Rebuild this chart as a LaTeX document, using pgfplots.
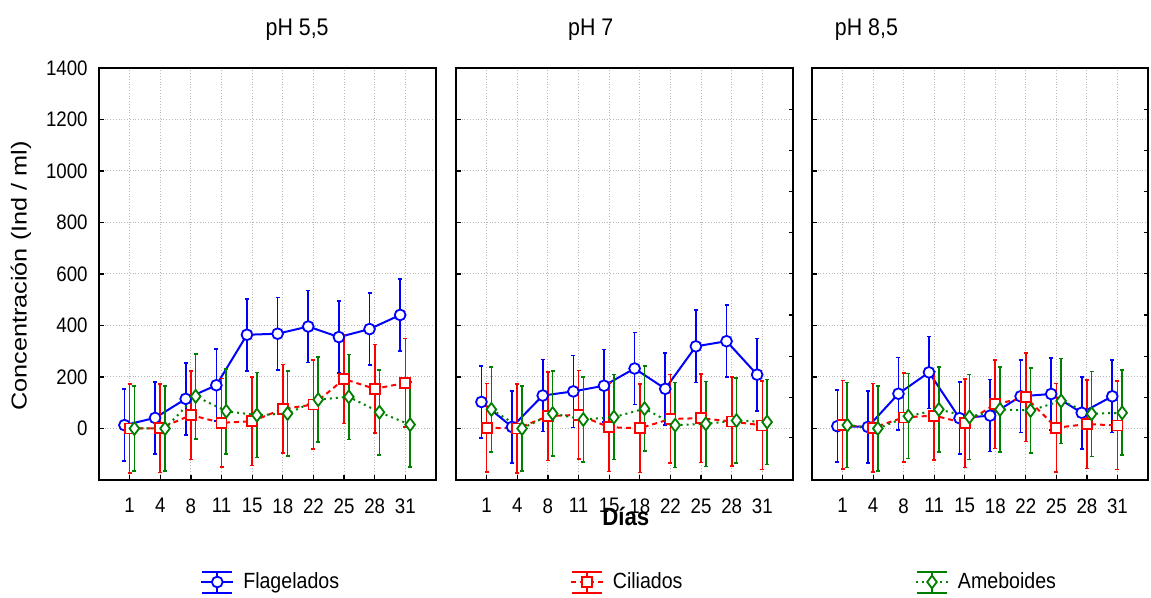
\documentclass[border=0pt]{standalone}
\usepackage{fontspec}
\setmainfont{Liberation Sans}[FakeStretch=0.89]
\newfontfamily\ylabfont{Liberation Sans}[FakeStretch=1.17]
\usepackage{pgfplots}
\usepackage{pgfplotstable}
\pgfplotsset{compat=1.18}

\definecolor{cblue}{RGB}{0,0,255}
\definecolor{cred}{RGB}{255,0,0}
\definecolor{cgreen}{RGB}{0,128,0}

% pH 5,5
\pgfplotstableread{
x f c a fe ce ae
0 13 0 0 140 172 165
1 41 1 0 140 172 165
2 115 52 125 140 172 165
3 168 22 67 140 172 165
4 364 28 52 140 172 165
5 368 76 58 140 172 165
6 396 93 112 140 172 165
7 355 192 123 140 172 165
8 386 154 63 140 172 165
9 441 177 15 140 172 165
}\phA
% pH 7
\pgfplotstableread{
x f c a fe ce ae
0 103 3 74 140 172 165
1 6 0 0 140 172 165
2 128 48 58 140 172 165
3 144 53 35 140 172 165
4 166 5 44 140 172 165
5 233 1 77 140 172 165
6 154 37 13 140 172 165
7 319 40 18 140 172 165
8 339 27 31 140 172 165
9 209 12 25 140 172 165
}\phB
% pH 8,5
\pgfplotstableread{
x f c a fe ce ae
0 9 14 13 140 172 165
1 6 3 0 140 172 165
2 135 43 48 140 172 165
3 218 50 74 140 172 165
4 40 21 45 140 172 165
5 50 94 74 140 172 165
6 125 121 70 140 172 165
7 134 3 107 140 172 165
8 61 17 57 140 172 165
9 125 12 61 140 172 165
}\phC

\pgfplotsset{
  legend image code/.code={
    \draw[#1,mark=none] (0pt,0pt) -- (16pt,0pt);
    \draw[#1,mark=none,solid,line width=1pt] (8pt,-5.25pt) -- (8pt,5.25pt) (0.5pt,-5.25pt) -- (15.5pt,-5.25pt) (0.5pt,5.25pt) -- (15.5pt,5.25pt);
    \draw[#1,only marks] plot coordinates {(8pt,0pt)};
  },
  panel/.style={
    anchor=south west, scale only axis, height=206pt,
    xmin=-1, xmax=10, ymin=-200, ymax=1400,
    xtick={0,...,9}, xticklabels={1,4,8,11,15,18,22,25,28,31},
    ytick={0,200,...,1400},
    xtick pos=bottom, ytick pos=left, tick align=inside,
    major tick length=2.5pt, tick style={black, line width=0.6pt},
    grid=major, grid style={densely dotted, black!28, line width=0.5pt},
    axis line style={line width=0.8pt},
    /pgf/number format/assume math mode=true,
    /pgf/number format/1000 sep={},
    ticklabel style={font=\fontsize{10.5}{12}\selectfont},
    xticklabel style={inner sep=0pt, anchor=north, yshift=-9pt},
    yticklabel style={inner sep=0pt, anchor=east, xshift=-5.5pt},
    legend style={draw=none, fill=none, inner sep=0pt, outer sep=0pt, anchor=west,
      font=\fontsize{11}{13}\selectfont, column sep=4.5pt, nodes={inner sep=0pt}},
  },
  fstyle/.style={cblue, line width=1pt, mark=*, mark size=2.7pt,
    mark options={solid, fill=white, draw=cblue, line width=0.9pt},
    error bars/.cd, y dir=both, y explicit,
    error bar style={line width=0.8pt, solid},
    error mark options={line width=0.8pt, mark size=1pt, solid, rotate=90},
    /pgfplots/.cd},
  cstyle/.style={cred, line width=1pt, dash pattern=on 2.5pt off 2pt, mark=square*, mark size=2.5pt,
    mark options={solid, fill=white, draw=cred, line width=0.9pt},
    error bars/.cd, y dir=both, y explicit,
    error bar style={line width=0.8pt, solid},
    error mark options={line width=0.8pt, mark size=1pt, solid, rotate=90},
    /pgfplots/.cd},
  astyle/.style={cgreen, line width=1pt, dotted, mark=diamond*, mark size=3.2pt,
    mark options={solid, fill=white, draw=cgreen, line width=0.9pt},
    error bars/.cd, y dir=both, y explicit,
    error bar style={line width=0.8pt, solid},
    error mark options={line width=0.8pt, mark size=1pt, solid, rotate=90},
    /pgfplots/.cd},
  rticks/.style={anchor=south west, scale only axis, height=206pt,
    xmin=-1, xmax=10, ymin=-200, ymax=1400, hide x axis, axis y line*=right,
    ytick={-36,121,281,441,601,761,920,1081,1240}, yticklabels={},
    tick align=inside, major tick length=2pt, tick style={black, line width=0.6pt},
    axis line style={line width=0.8pt}},
}
\newcommand{\paneltitle}[2]{\node[font=\fontsize{12}{14}\selectfont, anchor=center, inner sep=0pt] at (rel axis cs:#1,1.092) {#2};}

\begin{document}
\begin{tikzpicture}
\useasboundingbox (0pt,0pt) rectangle (575.5pt,299pt);

% ---------- pH 5,5
\begin{axis}[panel, at={(49.5pt,59pt)}, width=168.5pt, clip=false,
  ylabel={Concentración (Ind / ml)},
  ylabel style={at={(axis description cs:-0.232,0.495)}, anchor=center, font=\ylabfont\fontsize{10.8}{13}\selectfont},
  legend style={at={(axis description cs:0.3006,-0.2476)}}]
\addplot[fstyle] table[x expr=\thisrow{x}-0.17, y=f, y error=fe] {\phA};
\addlegendentry{Flagelados}
\addplot[forget plot, cstyle] table[x=x, y=c, y error=ce] {\phA};
\addplot[forget plot, astyle] table[x expr=\thisrow{x}+0.155, y=a, y error=ae] {\phA};
\paneltitle{0.588}{pH 5,5}
\end{axis}

% ---------- pH 7
\begin{axis}[panel, at={(228pt,59pt)}, width=168.5pt, yticklabels={}, clip=false,
  xlabel={Días},
  xlabel style={at={(axis description cs:0.504,-0.088)}, anchor=center, font=\fontsize{12.5}{14}\selectfont\bfseries},
  legend style={at={(axis description cs:0.338,-0.2476)}}]
\addplot[forget plot, fstyle] table[x expr=\thisrow{x}-0.17, y=f, y error=fe] {\phB};
\addplot[cstyle] table[x=x, y=c, y error=ce] {\phB};
\addlegendentry{Ciliados}
\addplot[forget plot, astyle] table[x expr=\thisrow{x}+0.155, y=a, y error=ae] {\phB};
\paneltitle{0.40}{pH 7}
\end{axis}
\begin{axis}[rticks, at={(228pt,59pt)}, width=168.5pt]
\end{axis}

% ---------- pH 8,5
\begin{axis}[panel, at={(406pt,59pt)}, width=168pt, yticklabels={}, clip=false,
  legend style={at={(axis description cs:0.3065,-0.2476)}}]
\addplot[forget plot, fstyle] table[x expr=\thisrow{x}-0.17, y=f, y error=fe] {\phC};
\addplot[forget plot, cstyle] table[x=x, y=c, y error=ce] {\phC};
\addplot[astyle] table[x expr=\thisrow{x}+0.155, y=a, y error=ae] {\phC};
\addlegendentry{Ameboides}
\paneltitle{0.162}{pH 8,5}
\end{axis}
\begin{axis}[rticks, at={(406pt,59pt)}, width=168pt]
\end{axis}
\end{tikzpicture}
\end{document}
